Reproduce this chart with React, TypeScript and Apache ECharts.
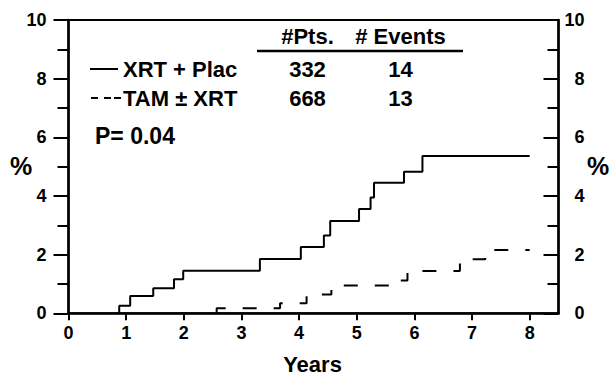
import React, { useEffect, useRef } from "react";
import * as echarts from "echarts";

// Years at which the cumulative incidence steps up, and the new level (%)
const xrtPlacTimes = [0.88, 1.07, 1.47, 1.83, 1.99, 3.32, 4.03, 4.43, 4.54, 5.04, 5.24, 5.3, 5.82, 6.14, 8.0];
const xrtPlacPct = [0.26, 0.59, 0.85, 1.16, 1.45, 1.85, 2.26, 2.65, 3.15, 3.56, 3.95, 4.45, 4.83, 5.36, 5.36];

const tamTimes = [2.57, 3.67, 4.13, 4.56, 5.69, 5.88, 6.79, 7.23, 8.0];
const tamPct = [0.17, 0.34, 0.64, 0.95, 1.12, 1.44, 1.84, 2.16, 2.16];

const xTickValues = [0, 1, 2, 3, 4, 5, 6, 7, 8];

const tableHeader = ["#Pts.", "# Events"];
const groupNames = ["XRT + Plac", "TAM \u00b1 XRT"];
const groupPts = ["332", "668"];
const groupEvents = ["14", "13"];
const pValueText = "P= 0.04";

const FONT = "'Liberation Sans', Arial, Helvetica, sans-serif";

function stepData(times: number[], pct: number[]) {
  const d: number[][] = [[times[0], 0]];
  for (let i = 0; i < times.length; i++) d.push([times[i], pct[i]]);
  return d;
}

export default function App() {
  const ref = useRef<HTMLDivElement>(null);
  useEffect(() => {
    document.body.style.margin = "0";
    if (!ref.current) return;
    const chart = echarts.init(ref.current, undefined, { renderer: "svg" });
    const txt = (text: string, x: number, y: number, size: number, align = "left") => ({
      type: "text",
      x,
      y,
      style: {
        text,
        fill: "#000",
        font: `bold ${size}px ${FONT}`,
        align,
        verticalAlign: "middle",
      },
    });
    const axisLabelStyle = { color: "#000", fontSize: 18, fontWeight: "bold", fontFamily: FONT };
    const yCommon = {
      type: "value",
      min: 0,
      max: 10,
      interval: 2,
      splitLine: { show: false },
      axisLine: { show: true, lineStyle: { color: "#000", width: 2.5 } },
      minorTick: { show: true, splitNumber: 2, length: 11, lineStyle: { color: "#000", width: 2 } },
    };
    chart.setOption({
      animation: false,
      backgroundColor: "#fff",
      grid: {
        left: 68.5,
        right: 51.5,
        top: 20,
        bottom: 61.7,
        show: true,
        borderColor: "#000",
        borderWidth: 2,
        backgroundColor: "transparent",
        outerBoundsMode: "none",
      },
      xAxis: {
        type: "value",
        min: 0,
        max: 8.5,
        interval: 1,
        splitLine: { show: false },
        axisLine: { show: true, onZero: false, lineStyle: { color: "#000", width: 2.5 } },
        axisTick: { show: true, length: 7, customValues: xTickValues, lineStyle: { color: "#000", width: 2 } },
        axisLabel: {
          ...axisLabelStyle,
          margin: 11,
          customValues: xTickValues,
          formatter: (v: number) => (Number.isInteger(v) ? String(v) : ""),
        },
      },
      yAxis: [
        {
          ...yCommon,
          position: "left",
          axisTick: { show: true, inside: false, length: 15, lineStyle: { color: "#000", width: 2 } },
          axisLabel: { ...axisLabelStyle, margin: 22, align: "right" },
        },
        {
          ...yCommon,
          position: "right",
          axisTick: { show: true, inside: true, length: 15, lineStyle: { color: "#000", width: 2 } },
          axisLabel: { ...axisLabelStyle, margin: 26, align: "right" },
        },
      ],
      series: [
        {
          name: groupNames[0],
          type: "line",
          step: "end",
          symbol: "none",
          data: stepData(xrtPlacTimes, xrtPlacPct),
          lineStyle: { color: "#000", width: 2 },
          z: 5,
        },
        {
          name: groupNames[1],
          type: "line",
          step: "end",
          symbol: "none",
          data: stepData(tamTimes, tamPct),
          lineStyle: { color: "#000", width: 2, type: [14, 17] },
          z: 5,
        },
      ],
      graphic: [
        txt("%", 21, 166, 25, "center"),
        txt("%", 598, 166, 25, "center"),
        txt("Years", 312.5, 364, 22, "center"),
        txt(tableHeader[0], 307.5, 36, 22, "center"),
        txt(tableHeader[1], 400.5, 36, 22, "center"),
        {
          type: "line",
          shape: { x1: 257, y1: 51, x2: 463, y2: 51 },
          style: { stroke: "#000", lineWidth: 2.5 },
        },
        {
          type: "line",
          shape: { x1: 90, y1: 69, x2: 118, y2: 69 },
          style: { stroke: "#000", lineWidth: 2 },
        },
        { type: "line", shape: { x1: 91, y1: 98, x2: 98, y2: 98 }, style: { stroke: "#000", lineWidth: 2 } },
        { type: "line", shape: { x1: 104, y1: 98, x2: 111, y2: 98 }, style: { stroke: "#000", lineWidth: 2 } },
        { type: "line", shape: { x1: 114, y1: 98, x2: 121, y2: 98 }, style: { stroke: "#000", lineWidth: 2 } },
        txt(groupNames[0], 123, 69, 22),
        txt(groupNames[1], 123, 98, 22),
        txt(groupPts[0], 307.5, 69, 22, "center"),
        txt(groupPts[1], 307.5, 98, 22, "center"),
        txt(groupEvents[0], 400.5, 69, 22, "center"),
        txt(groupEvents[1], 400.5, 98, 22, "center"),
        txt(pValueText, 95, 136, 23),
      ],
    });
    return () => chart.dispose();
  }, []);
  return <div ref={ref} style={{ width: 610, height: 375 }} />;
}
